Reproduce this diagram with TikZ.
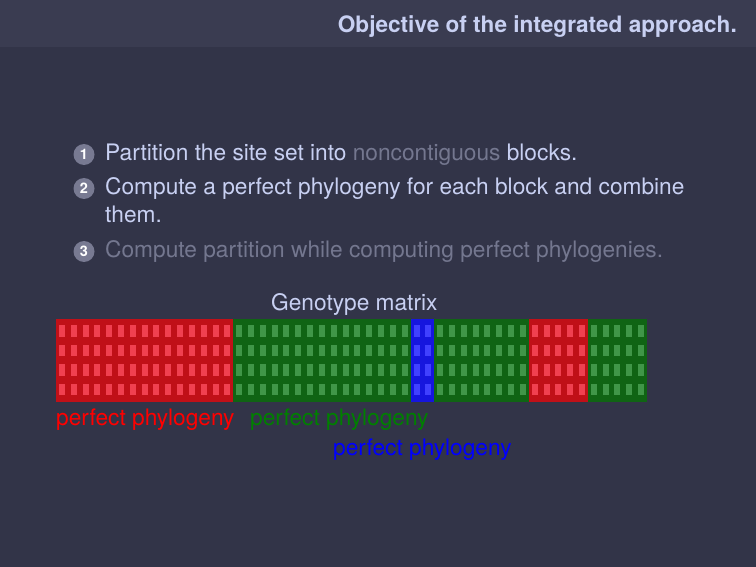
\documentclass[tikz,border=0pt]{standalone}
\usepackage{fontspec}
\setmainfont{TeX Gyre Heros}
\usepackage{tikz}
\usetikzlibrary{positioning,calc}
\definecolor{slidebg}{RGB}{50,52,72}
\definecolor{barbg}{RGB}{58,60,81}
\definecolor{fg}{RGB}{200,208,242}
\definecolor{dim}{RGB}{116,119,143}
\definecolor{ball}{RGB}{120,122,146}
\definecolor{rd}{RGB}{192,16,24}
\definecolor{rdc}{RGB}{240,64,80}
\definecolor{gn}{RGB}{16,100,20}
\definecolor{gnc}{RGB}{64,150,72}
\definecolor{bl}{RGB}{22,22,222}
\definecolor{blc}{RGB}{64,64,255}

\begin{document}
\begin{tikzpicture}[x=1pt,y=-1pt,font=\fontsize{22.7}{27}\selectfont,
   txt/.style={anchor=base west,inner sep=0pt,text=fg},
   num/.style={circle,fill=ball,text=white,minimum size=21pt,inner sep=0pt,
     font=\fontsize{14.5}{14.5}\selectfont\bfseries},
   lab/.style={anchor=base west,inner sep=0pt}]
  \fill[slidebg] (0,0) rectangle (756,567);
  \fill[barbg] (0,0) rectangle (756,47.5);
  \node[anchor=base east,inner sep=0pt,text=fg,font=\fontsize{22.6}{26}\selectfont\bfseries]
     (title) at (737,32.5) {Objective of the integrated approach.};
  % items
  \node[num] (b1) at (84,154.5) {1};
  \node[txt] (i1) at (105,161) {Partition the site set into \textcolor{dim}{noncontiguous} blocks.};
  \node[num] (b2) at (84,188.5) {2};
  \node[txt] (i2) at (105,195) {Compute a perfect phylogeny for each block and combine};
  \node[txt] (i2b) at (105,223) {them.};
  \node[num] (b3) at (84,251.5) {3};
  \node[txt,text=dim] (i3) at (105,258) {Compute partition while computing perfect phylogenies.};
  % genotype matrix
  \node[txt] (gm) at (271,310) {Genotype matrix};
  \foreach \a/\n/\c/\cc in {0/15/rd/rdc,15/15/gn/gnc,30/2/bl/blc,32/8/gn/gnc,40/5/rd/rdc,45/5/gn/gnc}{
    \fill[\c] (56+\a*11.82,319) rectangle (56+\a*11.82+\n*11.82,401.5);
    \foreach \j in {1,...,\n}
      \foreach \r in {0,...,3}
        \fill[\cc] ($(56+\a*11.82+\j*11.82-5.91-3,325+\r*19.55)$) rectangle +(6,11.7);
  }
  \node[lab,text=red] (pr) at (56,425.5) {perfect phylogeny};
  \node[lab,text=green!50!black] (pg) at (250,425.5) {perfect phylogeny};
  \node[lab,text=blue] (pb) at (333,455) {perfect phylogeny};
\end{tikzpicture}
\end{document}
